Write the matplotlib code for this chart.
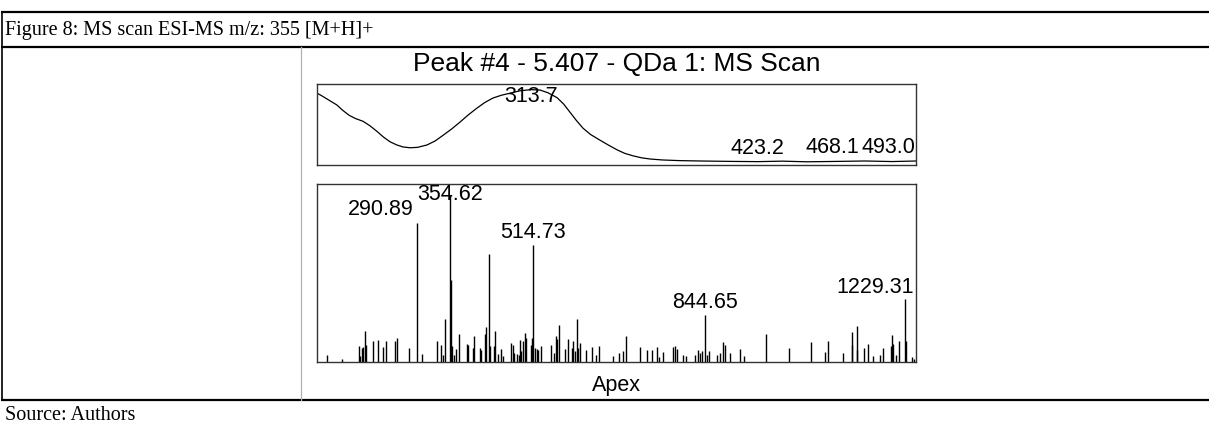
import matplotlib
matplotlib.use("Agg")
import matplotlib.pyplot as plt

# UV trace (top panel)
uv_nm = [210.5, 213.0, 216.8, 220.0, 223.0, 226.0, 229.0, 232.7, 236.0, 239.4,
         242.5, 245.7, 249.0, 252.0, 255.4, 259.0, 263.6, 267.5, 271.3, 275.5,
         279.5, 283.5, 287.7, 291.5, 295.4, 299.5, 303.6, 308.4, 313.7, 318.1,
         322.0, 326.3, 329.5, 332.5, 335.5, 338.8, 342.5, 347.0, 351.0, 355.2,
         359.0, 362.9, 367.0, 371.1, 377.0, 385.0, 395.3, 410.0, 423.2, 435.0,
         447.0, 461.8, 475.0, 488.0, 499.5]
uv_abs = [0.896, 0.86, 0.80, 0.75, 0.68, 0.62, 0.58, 0.545, 0.49, 0.42,
          0.35, 0.29, 0.25, 0.225, 0.215, 0.22, 0.25, 0.30, 0.37, 0.45,
          0.535, 0.625, 0.71, 0.78, 0.835, 0.87, 0.895, 0.925, 0.94, 0.935,
          0.90, 0.84, 0.76, 0.66, 0.56, 0.46, 0.38, 0.31, 0.25, 0.19,
          0.145, 0.115, 0.09, 0.075, 0.063, 0.055, 0.05, 0.045, 0.042, 0.048,
          0.04, 0.045, 0.05, 0.043, 0.05]
uv_labels = ["313.7", "423.2", "468.1", "493.0"]
uv_label_x = [313.7, 423.2, 468.1, 493.0]
uv_label_y = [0.94, 0.042, 0.045, 0.045]

# MS spectrum (bottom panel)
ms_mz = [117.3, 146.1, 178.8, 181.3, 185.7, 187.6, 190.3, 192.8, 206.9, 216.5,
         226.1, 231.3, 248.6, 253.0, 275.5, 290.89, 300.5, 328.8, 337.6, 341.5,
         344.2, 354.62, 355.6, 357.6, 362.1, 365.9, 371.1, 386.5, 388.4, 398.0,
         401.1, 412.0, 414.6, 422.2, 423.6, 429.4, 431.3, 438.4, 440.9, 446.7,
         453.0, 455.7, 471.1, 474.9, 477.4, 483.8, 486.5, 489.0, 491.5, 495.3,
         498.0, 501.1, 509.5, 512.6, 514.73, 517.2, 521.1, 523.6, 528.8, 548.6,
         554.9, 558.2, 560.7, 563.4, 574.9, 581.3, 589.0, 591.5, 594.7, 598.0,
         600.5, 604.3, 615.3, 628.0, 635.7, 641.5, 668.4, 679.9, 687.6, 692.8,
         719.7, 732.6, 743.4, 751.8, 756.8, 763.4, 783.8, 787.0, 791.5, 803.0,
         808.2, 825.5, 830.7, 835.1, 838.4, 844.65, 848.0, 852.4, 868.4, 873.6,
         879.9, 883.2, 892.8, 912.0, 919.7, 962.0, 1006.3, 1048.0, 1076.1, 1081.3,
         1110.7, 1126.8, 1128.0, 1136.4, 1137.6, 1150.5, 1157.6, 1167.2, 1181.2, 1186.4,
         1202.4, 1204.3, 1206.8, 1212.0, 1218.4, 1229.31, 1231.8, 1243.4, 1246.6]
ms_int = [4.4, 2.0, 9.4, 3.4, 8.4, 8.8, 18.4, 10.0, 12.4, 13.4,
          8.8, 12.8, 12.4, 14.4, 8.4, 83, 5.0, 12.4, 10.4, 4.4,
          26, 100, 49, 9.4, 4.4, 7.8, 16.8, 10.8, 10.4, 8.4,
          15.8, 8.4, 7.4, 16.8, 20.8, 64.5, 9.4, 9.4, 18.4, 4.8,
          8.0, 3.4, 11.4, 10.4, 5.4, 4.8, 4.4, 13.4, 6.4, 12.4,
          17.4, 14.4, 10.4, 14.4, 70, 8.4, 8.0, 7.4, 9.4, 10.4,
          5.4, 15.4, 14.0, 22.4, 7.8, 13.8, 8.4, 12.4, 6.8, 26,
          8.4, 11.4, 7.4, 8.8, 4.4, 9.8, 3.8, 5.4, 6.4, 15.4,
          8.8, 7.4, 7.0, 8.8, 2.8, 6.0, 8.8, 9.8, 8.0, 4.4,
          3.8, 4.4, 7.4, 5.4, 6.4, 28, 4.4, 6.4, 4.4, 5.4,
          12.0, 10.4, 5.4, 7.8, 3.8, 16.8, 8.4, 12.0, 6.0, 12.8,
          5.4, 10.4, 17.8, 7.4, 21.8, 8.4, 10.8, 3.8, 4.4, 8.4,
          9.8, 16.4, 10.8, 4.4, 12.4, 38, 12.4, 2.8, 2.0]
ms_labels = ["290.89", "354.62", "514.73", "844.65", "1229.31"]
ms_label_mz = [290.89, 354.62, 514.73, 844.65, 1229.31]
ms_label_int = [83, 100, 70, 28, 38]

W, H = 1209, 428
fig = plt.figure(figsize=(W / 100, H / 100), dpi=100)

def box(x0, y0, x1, y1):
    # pixel box (top-left origin) -> figure fraction rect
    return [x0 / W, 1 - y1 / H, (x1 - x0) / W, (y1 - y0) / H]

# overlay in pixel coordinates for the table lines and texts
ov = fig.add_axes([0, 0, 1, 1])
ov.set_xlim(0, W)
ov.set_ylim(H, 0)
ov.axis("off")
for y in [12, 46.5, 400]:
    ov.plot([1, W], [y, y], color="k", lw=1.6, solid_capstyle="butt")
ov.plot([1.5, 1.5], [12, 400], color="k", lw=1.2)
ov.plot([301, 301], [47, 400], color="#b0b0b0", lw=0.9)

serif = "Liberation Serif"
sans = "Liberation Sans"
ov.text(5, 30, "Figure 8: MS scan ESI-MS m/z: 355 [M+H]+", family=serif,
        fontsize=14.5, va="center", ha="left")
ov.text(5, 415, "Source: Authors", family=serif, fontsize=14.5, va="center", ha="left")
ov.text(616.5, 64, "Peak #4 - 5.407 - QDa 1: MS Scan", family=sans,
        fontsize=19, va="center", ha="center")
ov.text(616.5, 385, "Apex", family=sans, fontsize=15.5, va="center", ha="center")

frame_color = "#333333"

# top panel: UV
ax1 = fig.add_axes(box(317, 84, 916, 165))
ax1.plot(uv_nm, uv_abs, color="k", lw=0.9)
ax1.set_xlim(210.5, 499.5)
ax1.set_ylim(0, 1.01)
uv_dx = [0, 0, -19, -14]
uv_dy = [-12, 8, 8, 8]
for lab, x, y, dx, dy in zip(uv_labels, uv_label_x, uv_label_y, uv_dx, uv_dy):
    ax1.annotate(lab, (x, y), xytext=(dx, dy), textcoords="offset pixels",
                 ha="center", va="baseline", family=sans, fontsize=15.5)

# bottom panel: MS
ax2 = fig.add_axes(box(317, 184, 916, 362))
ax2.vlines(ms_mz, 0, ms_int, colors="k", lw=1.0)
ax2.set_xlim(98.6, 1250.5)
ax2.set_ylim(0, 106.6)
ms_dx = [-36, 0, 0, 0, -30]
ms_dy = [8, -5, 7, 7, 6]
for lab, x, y, dx, dy in zip(ms_labels, ms_label_mz, ms_label_int, ms_dx, ms_dy):
    ax2.annotate(lab, (x, y), xytext=(dx, dy), textcoords="offset pixels",
                 ha="center", va="baseline", family=sans, fontsize=15.5)

for ax in (ax1, ax2):
    ax.set_xticks([])
    ax.set_yticks([])
    for s in ax.spines.values():
        s.set_color(frame_color)
        s.set_linewidth(1.0)

fig.savefig("out.png", dpi=100)
